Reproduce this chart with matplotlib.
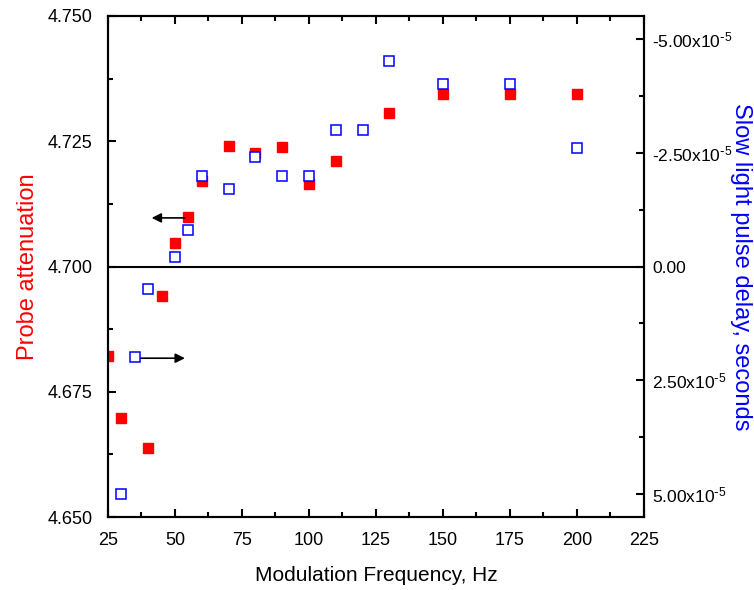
import matplotlib
matplotlib.use('Agg')
import matplotlib.pyplot as plt
from matplotlib.ticker import MultipleLocator

plt.rcParams['font.family'] = ['Liberation Sans', 'DejaVu Sans']
plt.rcParams['mathtext.default'] = 'regular'

# probe attenuation (left axis, red filled squares)
freq_att = [25, 30, 40, 45, 50, 55, 60, 70, 80, 90, 100, 110, 130, 150, 175, 200]
attenuation = [4.6821, 4.6698, 4.6638, 4.6942, 4.7046, 4.7099, 4.7171, 4.7241, 4.7226,
               4.7238, 4.7164, 4.7211, 4.7306, 4.7345, 4.7345, 4.7345]

# slow light pulse delay (right axis, blue open squares)
freq_delay = [30, 35, 40, 50, 55, 60, 70, 80, 90, 100, 110, 120, 130, 150, 175, 200]
delay = [5.00e-5, 2.00e-5, 0.50e-5, -0.21e-5, -0.81e-5, -1.99e-5, -1.70e-5, -2.40e-5,
         -2.00e-5, -2.00e-5, -3.00e-5, -3.00e-5, -4.51e-5, -4.02e-5, -4.02e-5, -2.60e-5]

right_ticks = [-5e-5, -2.5e-5, 0, 2.5e-5, 5e-5]
right_labels = [r'-5.00x10$^{\text{-}5}$', r'-2.50x10$^{\text{-}5}$', '0.00',
                r'2.50x10$^{\text{-}5}$', r'5.00x10$^{\text{-}5}$']

fig = plt.figure(figsize=(7.54, 5.90), dpi=100)
ax1 = fig.add_axes([0.1432, 0.1237, 0.7109, 0.8492])
ax2 = ax1.twinx()

ax1.axhline(4.700, color='black', lw=1.5, zorder=1)
ax1.plot(freq_att, attenuation, 's', color='#ff0000', ms=6.8, mec='#ff0000', zorder=3)
ax2.plot(freq_delay, delay, 's', mfc='white', mec='#0000ff', mew=1.1, ms=6.5)

ax1.set_xlim(25, 225)
ax1.set_ylim(4.650, 4.750)
ax2.set_ylim(5.51e-5, -5.51e-5)

ax1.xaxis.set_major_locator(MultipleLocator(25))
ax1.xaxis.set_minor_locator(MultipleLocator(12.5))
ax1.yaxis.set_major_locator(MultipleLocator(0.025))
ax1.yaxis.set_minor_locator(MultipleLocator(0.0125))
ax1.yaxis.set_major_formatter(matplotlib.ticker.FormatStrFormatter('%.3f'))
ax2.set_yticks(right_ticks)
ax2.set_yticklabels(right_labels)
ax2.yaxis.set_minor_locator(MultipleLocator(1.25e-5))

for ax in (ax1, ax2):
    for s in ax.spines.values():
        s.set_linewidth(1.5)
ax1.tick_params(which='both', direction='in', top=True, width=1.5, labelsize=13)
ax1.tick_params(which='major', length=6, pad=11)
ax1.tick_params(which='minor', length=3.5)
ax2.tick_params(which='both', direction='in', width=1.5, labelsize=12.5)
ax2.tick_params(which='major', length=6, pad=6)
ax2.tick_params(which='minor', length=3.5)

ax1.set_xlabel('Modulation Frequency, Hz', fontsize=15, labelpad=12)
ax1.set_ylabel('Probe attenuation', fontsize=17, color='#ff0000', labelpad=6)
ax2.set_ylabel('Slow light pulse delay, seconds', fontsize=17, color='#0000ff',
               rotation=-90, labelpad=14)

ax1.annotate('', xy=(41.3, 4.7097), xytext=(53.7, 4.7097),
             arrowprops=dict(arrowstyle='-|>', color='black', lw=1.2,
                             mutation_scale=14, shrinkA=0, shrinkB=0))
ax1.annotate('', xy=(53.7, 4.6817), xytext=(36.3, 4.6817),
             arrowprops=dict(arrowstyle='-|>', color='black', lw=1.2,
                             mutation_scale=14, shrinkA=0, shrinkB=0))

fig.savefig('out.png', dpi=100)
